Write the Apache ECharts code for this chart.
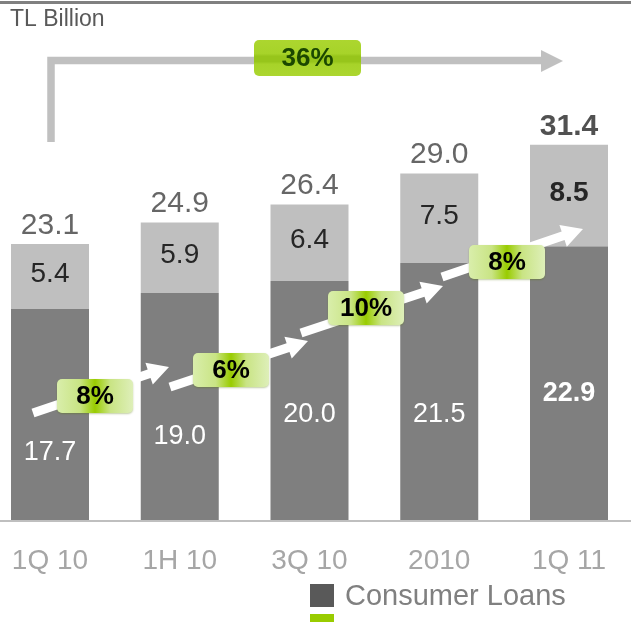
<!DOCTYPE html>
<html>
<head>
<meta charset="utf-8">
<style>
  html, body { margin: 0; padding: 0; background: #ffffff; }
  #chart { width: 631px; height: 622px; }
</style>
<script src="https://cdn.jsdelivr.net/npm/echarts@6/dist/echarts.min.js"></script>
</head>
<body>
<div id="chart"></div>
<script>
// Consumer loans, TL billion, split into two stacked parts per period
const categories = ['1Q 10', '1H 10', '3Q 10', '2010', '1Q 11'];
const loansLower = [17.7, 19.0, 20.0, 21.5, 22.9];
const loansUpper = [5.4, 5.9, 6.4, 7.5, 8.5];
const loansTotal = [23.1, 24.9, 26.4, 29.0, 31.4];
const stepGrowth = ['8%', '6%', '10%', '8%'];
const overallGrowth = '36%';
const unitTitle = 'TL Billion';
const legendName = 'Consumer Loans';

const FONT = '"Liberation Sans", Arial, sans-serif';
const last = categories.length - 1;

// vertical nudges for the labels inside the darker segment
const lowerLabelShift = [38, 30, 14, 23, 10];

const chart = echarts.init(document.getElementById('chart'), null, { renderer: 'canvas' });

function arrowPolygon(x0, y0, x1, y1, w, headLen, headW) {
  const len = Math.hypot(x1 - x0, y1 - y0);
  const dx = (x1 - x0) / len, dy = (y1 - y0) / len;
  const nx = -dy, ny = dx;
  const bx = x1 - dx * headLen, by = y1 - dy * headLen;
  return [
    [x0 + nx * w / 2, y0 + ny * w / 2],
    [bx + nx * w / 2, by + ny * w / 2],
    [bx + nx * headW / 2, by + ny * headW / 2],
    [x1, y1],
    [bx - nx * headW / 2, by - ny * headW / 2],
    [bx - nx * w / 2, by - ny * w / 2],
    [x0 - nx * w / 2, y0 - ny * w / 2]
  ];
}

// growth arrows between periods and their badges
const stepArrows = [
  [33, 413, 169, 367],
  [170, 387, 308, 341],
  [301, 333, 443, 286],
  [442, 277, 583, 229]
];
const stepBadges = [[95, 396], [231, 370], [366, 308], [507, 262]];

const graphics = [];

// rule at the top of the panel
graphics.push({
  type: 'rect', z: 50,
  shape: { x: 0, y: 1, width: 631, height: 3 },
  style: { fill: '#808080' }
});

// baseline running across the whole panel
graphics.push({
  type: 'rect', z: 50,
  shape: { x: 0, y: 520, width: 631, height: 2 },
  style: { fill: '#bfbfbf' }
});

graphics.push({
  type: 'text', z: 50, left: 10, top: 8,
  style: { text: unitTitle, font: '23px ' + FONT, fill: '#595959' }
});

// overall growth bracket
graphics.push({
  type: 'polyline', z: 50,
  shape: { points: [[51, 142], [51, 60.5], [542, 60.5]] },
  style: { stroke: '#c0c0c0', lineWidth: 7.5, fill: null, lineJoin: 'miter' }
});
graphics.push({
  type: 'polygon', z: 50,
  shape: { points: [[541, 50], [563, 61], [541, 72]] },
  style: { fill: '#c0c0c0' }
});
graphics.push({
  type: 'rect', z: 51,
  shape: { x: 254, y: 40, width: 107, height: 36, r: 5 },
  style: {
    fill: new echarts.graphic.LinearGradient(0, 0, 0, 1, [
      { offset: 0, color: '#acd62f' },
      { offset: 0.38, color: '#a7d329' },
      { offset: 0.45, color: '#97c51b' },
      { offset: 0.6, color: '#97c51b' },
      { offset: 0.67, color: '#a7d329' },
      { offset: 1, color: '#acd62f' }
    ])
  }
});
graphics.push({
  type: 'text', z: 52, x: 307.5, y: 59,
  style: {
    text: overallGrowth, font: 'bold 26px ' + FONT, fill: '#1b4800',
    align: 'center', verticalAlign: 'middle'
  }
});

stepArrows.forEach(function (a) {
  graphics.push({
    type: 'polygon', z: 60,
    shape: { points: arrowPolygon(a[0], a[1], a[2], a[3], 9, 21, 23) },
    style: { fill: '#ffffff' }
  });
});

stepBadges.forEach(function (b, i) {
  graphics.push({
    type: 'rect', z: 61,
    shape: { x: b[0] - 38, y: b[1] - 17, width: 76, height: 34, r: 5 },
    style: {
      fill: new echarts.graphic.LinearGradient(0, 0, 1, 0, [
        { offset: 0, color: '#d9eeab' },
        { offset: 0.3, color: '#c9e484' },
        { offset: 0.5, color: '#99cc00' },
        { offset: 0.7, color: '#c9e484' },
        { offset: 1, color: '#deefb9' }
      ]),
      shadowBlur: 2, shadowOffsetY: 1, shadowColor: 'rgba(80,110,0,0.35)'
    }
  });
  graphics.push({
    type: 'text', z: 62, x: b[0], y: b[1] + 1,
    style: {
      text: stepGrowth[i], font: 'bold 26px ' + FONT, fill: '#000000',
      align: 'center', verticalAlign: 'middle'
    }
  });
});

// legend key
graphics.push({
  type: 'rect', z: 50,
  shape: { x: 310, y: 584, width: 24, height: 23 },
  style: { fill: '#595959' }
});
graphics.push({
  type: 'rect', z: 50,
  shape: { x: 310, y: 614, width: 24, height: 8 },
  style: { fill: '#99cc00' }
});
graphics.push({
  type: 'text', z: 50, x: 345, y: 597,
  style: { text: legendName, font: '29px ' + FONT, fill: '#808080', verticalAlign: 'middle' }
});

const option = {
  animation: false,
  backgroundColor: '#ffffff',
  grid: { left: 50, right: 62, top: 42, bottom: 102, containLabel: false },
  xAxis: {
    type: 'category',
    data: categories,
    boundaryGap: false,
    axisLine: { show: false },
    axisTick: { show: false },
    splitLine: { show: false },
    axisLabel: { color: '#a6a6a6', fontSize: 28, fontFamily: FONT, margin: 27 }
  },
  yAxis: {
    type: 'value', min: 0, max: 40,
    show: false,
    splitLine: { show: false }
  },
  series: [
    {
      name: legendName,
      type: 'bar',
      stack: 'loans',
      barWidth: 78,
      clip: false,
      itemStyle: { color: '#7f7f7f' },
      data: loansLower.map(function (v, i) {
        return {
          value: v,
          label: {
            offset: [0, lowerLabelShift[i]],
            fontWeight: i === last ? 'bold' : 'normal'
          }
        };
      }),
      label: {
        show: true, position: 'inside', color: '#ffffff',
        fontSize: 27, fontFamily: FONT,
        formatter: function (p) { return p.value.toFixed(1); }
      }
    },
    {
      name: legendName + ' (upper)',
      type: 'bar',
      stack: 'loans',
      barWidth: 78,
      clip: false,
      itemStyle: { color: '#bfbfbf' },
      data: loansUpper.map(function (v, i) {
        return {
          value: v,
          label: { fontWeight: i === last ? 'bold' : 'normal', offset: [0, -2] }
        };
      }),
      label: {
        show: true, position: 'inside', color: '#262626',
        fontSize: 28, fontFamily: FONT,
        formatter: function (p) { return p.value.toFixed(1); }
      }
    },
    {
      name: 'total',
      type: 'scatter',
      symbolSize: 1,
      clip: false,
      itemStyle: { color: 'rgba(0,0,0,0)' },
      z: 5,
      data: loansTotal.map(function (v, i) {
        return {
          value: v,
          label: {
            fontWeight: i === last ? 'bold' : 'normal',
            color: i === last ? '#262626' : '#404040'
          }
        };
      }),
      label: {
        show: true, position: 'top', distance: 3,
        fontSize: 30, fontFamily: FONT,
        formatter: function (p) { return p.value.toFixed(1); }
      }
    }
  ],
  graphic: graphics
};

chart.setOption(option);
</script>
</body>
</html>
